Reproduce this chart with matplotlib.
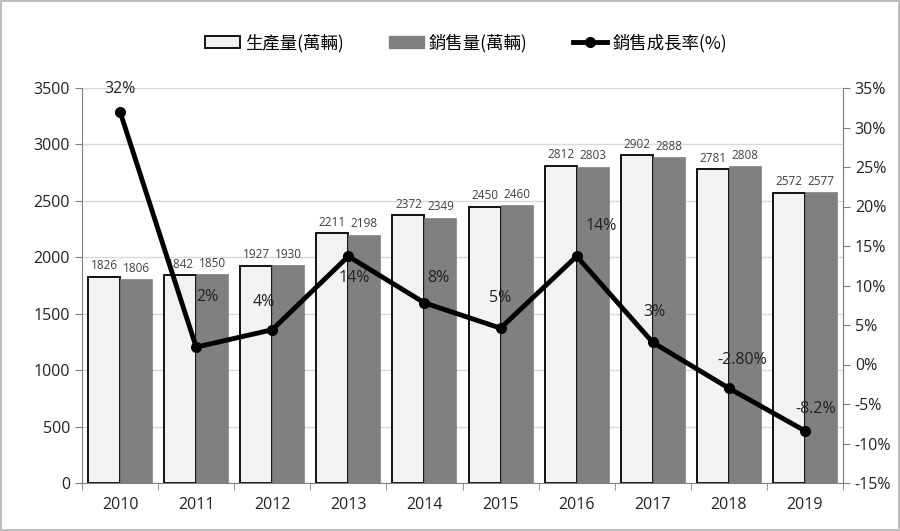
import matplotlib
matplotlib.use("Agg")
import matplotlib.pyplot as plt
import numpy as np
from matplotlib.lines import Line2D
from matplotlib.patches import Patch

plt.rcParams['font.family'] = ['Open Sans', 'Noto Sans CJK TC', 'DejaVu Sans']

years = ["2010", "2011", "2012", "2013", "2014", "2015", "2016", "2017", "2018", "2019"]
production = [1826, 1842, 1927, 2211, 2372, 2450, 2812, 2902, 2781, 2572]
sales = [1806, 1850, 1930, 2198, 2349, 2460, 2803, 2888, 2808, 2577]
growth = [32, 2.2, 4.4, 13.7, 7.8, 4.6, 13.7, 2.8, -3.0, -8.4]
growth_labels = ["32%", "2%", "4%", "14%", "8%", "5%", "14%", "3%", "-2.80%", "-8.2%"]
label_offsets = [(0, 16), (8, 36), (-6, 20), (4, -16), (10, 18), (0, 22), (18, 22), (1, 22), (10, 20), (8, 16)]

fig = plt.figure(figsize=(9, 5.31), dpi=100)
fig.patch.set_facecolor('white')
fig.patch.set_edgecolor('#BFBFBF')
fig.patch.set_linewidth(1.5)

ax = fig.add_axes([82/900, 1-483/531, (843-82)/900, (483-88)/531])
x = np.arange(len(years))
w = 0.42
ax.bar(x - w/2, production, w, color='#F2F2F2', edgecolor='black', linewidth=1.3, zorder=2)
ax.bar(x + w/2, sales, w, color='#808080', edgecolor='#808080', linewidth=0.5, zorder=2)
for i in range(len(years)):
    ax.text(x[i] - w/2, production[i] + 40, str(production[i]), ha='center', va='bottom',
            fontsize=8.5, color='#404040', zorder=4)
    ax.text(x[i] + w/2, sales[i] + 40, str(sales[i]), ha='center', va='bottom',
            fontsize=8.5, color='#404040', zorder=4)

ax.set_ylim(0, 3500)
ax.set_yticks(np.arange(0, 3501, 500))
ax.set_xlim(-0.5, len(years) - 0.5)
ax.set_xticks(x)
ax.set_xticklabels(years)
ax.set_xticks(np.arange(-0.5, len(years), 1), minor=True)
ax.tick_params(axis='x', which='major', length=0, pad=10, labelsize=11.5, labelcolor='#222222')
ax.tick_params(axis='x', which='minor', length=5, color='#808080')
ax.tick_params(axis='y', length=5, color='#808080', labelsize=11.5, labelcolor='#222222')
ax.yaxis.grid(True, color='#D9D9D9', linewidth=1)
ax.set_axisbelow(True)
ax.spines['top'].set_visible(False)
for s in ['left', 'bottom', 'right']:
    ax.spines[s].set_color('#808080')

ax2 = ax.twinx()
ax2.plot(x, growth, color='black', linewidth=3.5, marker='o', markersize=7, zorder=5)
ax2.set_ylim(-15, 35)
ax2.set_yticks(np.arange(-15, 36, 5))
ax2.set_yticklabels([f"{v}%" for v in range(-15, 36, 5)])
ax2.tick_params(axis='y', length=5, color='#808080', labelsize=11.5, labelcolor='#222222')
ax2.spines['top'].set_visible(False)
ax2.spines['right'].set_color('#808080')
ax2.spines['left'].set_visible(False)
ax2.spines['bottom'].set_visible(False)
for i in range(len(years)):
    ax2.annotate(growth_labels[i], (x[i], growth[i]), xytext=label_offsets[i], textcoords='offset points',
                 ha='center', va='center', fontsize=11.5, color='#222222', zorder=6)

handles = [Patch(facecolor='#F2F2F2', edgecolor='black', linewidth=1.3),
           Patch(facecolor='#808080', edgecolor='#808080'),
           Line2D([0], [0], color='black', linewidth=3.5, marker='o', markersize=7)]
labels = ['生產量(萬輛)', '銷售量(萬輛)', '銷售成長率(%)']
fig.legend(handles, labels, loc='center', bbox_to_anchor=(0.518, 1-43/531), ncol=3, frameon=False,
           handlelength=2.0, columnspacing=2.6, handletextpad=0.3,
           prop={'family': ['Noto Sans CJK TC', 'DejaVu Sans'], 'size': 12.5})

fig.savefig('out.png', dpi=100, facecolor=fig.get_facecolor(), edgecolor=fig.get_edgecolor())
